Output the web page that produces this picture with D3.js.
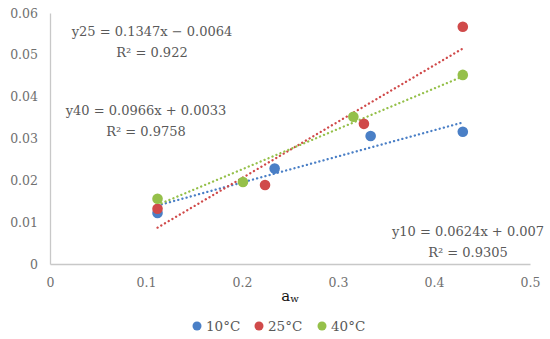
<!DOCTYPE html>
<html><head><meta charset="utf-8">
<script src="https://cdn.jsdelivr.net/npm/d3@7"></script>
<style>body{margin:0;background:#fff}svg{display:block}</style>
</head><body>
<svg id="c" width="550" height="339"></svg>
<script>
const seriesNames = ["10°C", "25°C", "40°C"];
const colors = ["#4a7fc6", "#d04a4a", "#95c04a"];
const x10 = [0.112, 0.234, 0.334, 0.430];
const y10 = [0.0122, 0.0228, 0.0306, 0.0316];
const x25 = [0.112, 0.224, 0.327, 0.430];
const y25 = [0.0132, 0.0189, 0.0335, 0.0567];
const x40 = [0.112, 0.201, 0.316, 0.430];
const y40 = [0.0156, 0.0196, 0.0352, 0.0452];
const slopes = [0.0624, 0.1347, 0.0966];
const intercepts = [0.007, -0.0064, 0.0033];
const eqLabels = ["y10 = 0.0624x + 0.007", "y25 = 0.1347x − 0.0064", "y40 = 0.0966x + 0.0033"];
const r2Labels = ["R² = 0.9305", "R² = 0.922", "R² = 0.9758"];
const xTicks = [0, 0.1, 0.2, 0.3, 0.4, 0.5];
const yTicks = [0, 0.01, 0.02, 0.03, 0.04, 0.05, 0.06];

const svg = d3.select("#c");
const font = "'DejaVu Serif', serif";
const x = d3.scaleLinear().domain([0, 0.5]).range([50, 530]);
const y = d3.scaleLinear().domain([0, 0.06]).range([264, 13]);

// axes
const xAxis = d3.axisBottom(x).tickValues(xTicks).tickSize(0).tickPadding(14)
  .tickFormat(d => d === 0 ? "0" : d3.format(".1f")(d));
const gx = svg.append("g").attr("transform", `translate(0,${y(0)})`).call(xAxis);
const yAxis = d3.axisLeft(y).tickValues(yTicks).tickSize(0).tickPadding(12)
  .tickFormat(d => d === 0 ? "0" : d3.format(".2f")(d));
const gy = svg.append("g").attr("transform", `translate(${x(0)},0)`).call(yAxis);
[gx, gy].forEach(g => {
  g.select(".domain").attr("stroke", "#c8c8c8").attr("stroke-width", 1.3);
  g.selectAll("text").attr("fill", "#707070").style("font-family", font).style("font-size", "12.5px");
});

const xs = [x10, x25, x40], ys = [y10, y25, y40];
// trendlines
xs.forEach((xv, i) => {
  const x0 = d3.min(xv), x1 = d3.max(xv);
  svg.append("line")
    .attr("x1", x(x0)).attr("y1", y(slopes[i] * x0 + intercepts[i]))
    .attr("x2", x(x1)).attr("y2", y(slopes[i] * x1 + intercepts[i]))
    .attr("stroke", colors[i]).attr("stroke-width", 2.3)
    .attr("stroke-linecap", "round").attr("stroke-dasharray", "0.1 4.2");
});
// points
xs.forEach((xv, i) => {
  svg.append("g").selectAll("circle").data(xv.map((d, j) => [d, ys[i][j]])).join("circle")
    .attr("cx", d => x(d[0])).attr("cy", d => y(d[1])).attr("r", 5.3)
    .attr("fill", colors[i]);
});

// equation labels
const eqPos = [[468, 236, 257], [152, 36, 57], [146, 115, 136]];
eqPos.forEach((p, i) => {
  svg.append("text").attr("x", p[0]).attr("y", p[1]).attr("text-anchor", "middle")
    .attr("fill", "#595959").style("font-family", font).style("font-size", "13px").text(eqLabels[i]);
  svg.append("text").attr("x", p[0]).attr("y", p[2]).attr("text-anchor", "middle")
    .attr("fill", "#595959").style("font-family", font).style("font-size", "13px").text(r2Labels[i]);
});

// x-axis title
const t = svg.append("text").attr("x", 290).attr("y", 301).attr("text-anchor", "middle")
  .attr("fill", "#111").style("font-family", font);
t.append("tspan").style("font-size", "15px").text("a");
t.append("tspan").style("font-size", "10px").attr("dy", 1).text("w");

// legend
const legX = [197, 259, 322];
seriesNames.forEach((n, i) => {
  svg.append("circle").attr("cx", legX[i]).attr("cy", 326).attr("r", 4.5).attr("fill", colors[i]);
  svg.append("text").attr("x", legX[i] + 9).attr("y", 331).attr("fill", "#595959")
    .style("font-family", font).style("font-size", "13.5px").text(n);
});
</script>
</body></html>
